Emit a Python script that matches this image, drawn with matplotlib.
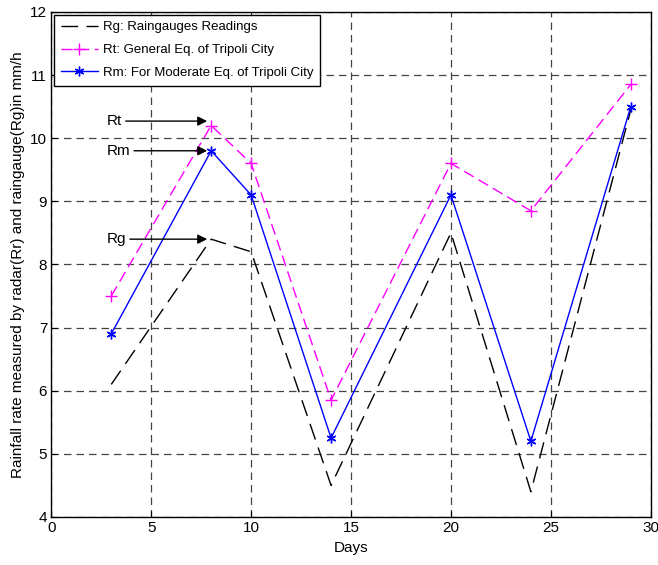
import matplotlib
matplotlib.use("Agg")
import matplotlib.pyplot as plt

plt.rcParams['font.family'] = ['Liberation Sans', 'DejaVu Sans']

days = [3, 8, 10, 14, 20, 24, 29]
rg = [6.1, 8.4, 8.2, 4.5, 8.5, 4.4, 10.45]
rt = [7.5, 10.2, 9.6, 5.85, 9.6, 8.85, 10.85]
rm = [6.9, 9.8, 9.1, 5.25, 9.1, 5.2, 10.5]

labels = ['Rg: Raingauges Readings',
          'Rt: General Eq. of Tripoli City',
          'Rm: For Moderate Eq. of Tripoli City']
arrow_labels = ['Rt', 'Rm', 'Rg']
arrow_y = [10.27, 9.8, 8.4]

fig = plt.figure(figsize=(6.58, 5.65), dpi=100)
ax = fig.add_axes([0.078, 0.085, 0.911, 0.894])

ax.plot(days, rg, color='black', linestyle=(0, (12, 6)), linewidth=1.0, label=labels[0])
ax.plot(days, rt, color='magenta', linestyle=(0, (8, 4)), linewidth=1.0,
        marker='+', markersize=8, label=labels[1])
ax.plot(days, rm, color='blue', linestyle='-', linewidth=1.0,
        marker=(6, 2, 0), markersize=7, label=labels[2])

# arrows pointing at the day-8 peaks
for txt, yv in zip(arrow_labels, arrow_y):
    ax.annotate(txt, xy=(7.8, yv), xytext=(2.75, yv), ha='left', va='center', fontsize=11,
                arrowprops=dict(arrowstyle='-|>', color='black', lw=1.0,
                                mutation_scale=14, shrinkA=1, shrinkB=0))

ax.set_xlim(0, 30)
ax.set_ylim(4, 12)
ax.set_xticks(range(0, 31, 5))
ax.set_yticks(range(4, 13))
ax.grid(True, color='#444444', linestyle=(0, (6, 4)), linewidth=0.9)
ax.tick_params(direction='in', labelsize=11, length=4, pad=3)
ax.set_xlabel('Days', fontsize=11)
ax.set_ylabel('Rainfall rate measured by radar(Rr) and raingauge(Rg)in mm/h', fontsize=11)
for s in ax.spines.values():
    s.set_linewidth(1.0)

leg = ax.legend(loc='upper left', fontsize=9.5, fancybox=False, edgecolor='black',
                framealpha=1, borderaxespad=0.2, handlelength=2.8, borderpad=0.5,
                labelspacing=0.8, handletextpad=0.4)
leg.get_frame().set_linewidth(1.0)

fig.savefig('out.png', dpi=100)
